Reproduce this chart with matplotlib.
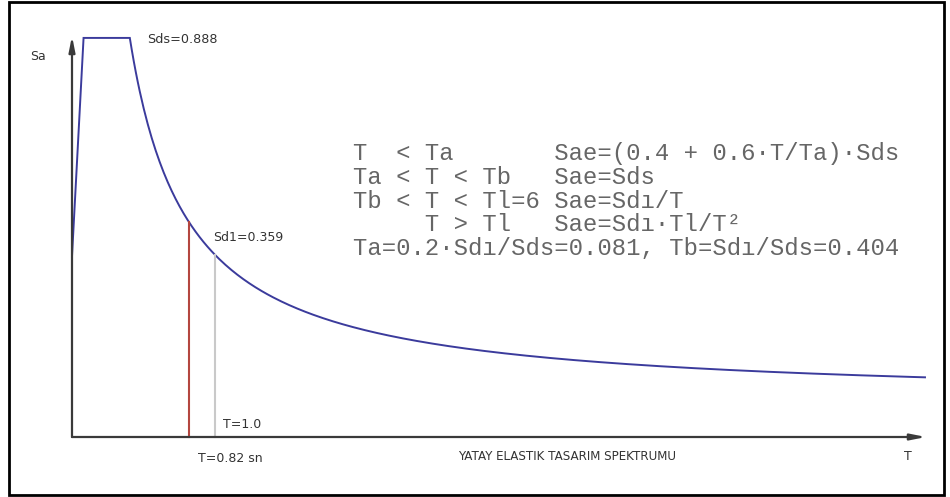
import numpy as np
import matplotlib.pyplot as plt
from matplotlib.patches import Rectangle

# Spectrum parameters
Sds = 0.888
Sd1 = 0.359
TL = 6.0
Ta = 0.2 * Sd1 / Sds
Tb = Sd1 / Sds
T_marks = [0.82, 1.0]
mark_colors = ['#b4463f', '#c9c9c9']

formula_lines = [
    "T  < Ta       Sae=(0.4 + 0.6·T/Ta)·Sds",
    "Ta < T < Tb   Sae=Sds",
    "Tb < T < Tl=6 Sae=Sdı/T",
    "     T > Tl   Sae=Sdı·Tl/T²",
    "Ta=0.2·Sdı/Sds=0.081, Tb=Sdı/Sds=0.404",
]

# pixel <-> data helpers (figure is 950x497 px)
W, H = 950, 497
X0, SX = 72, 143.0     # T=0 position and px per second
Y0, SY = 402, 410.0    # Sa=0 position (from top) and px per unit


def px(x):
    return (x - X0) / SX


def py(y):
    return (Y0 - y) / SY


def sae(T):
    T = np.asarray(T, dtype=float)
    out = np.where(T < Ta, (0.4 + 0.6 * T / Ta) * Sds, Sds)
    out = np.where(T > Tb, Sd1 / np.maximum(T, 1e-9), out)
    out = np.where(T > TL, Sd1 * TL / np.maximum(T, 1e-9) ** 2, out)
    return out


fig = plt.figure(figsize=(W / 100, H / 100), dpi=100)
ax = fig.add_axes([0, 0, 1, 1])
ax.set_xlim(px(0), px(W))
ax.set_ylim(py(H), py(0))
ax.axis('off')

# outer frame
fig.patches.append(Rectangle((9 / W, 2 / H), 935 / W, 493 / H, transform=fig.transFigure,
                             fill=False, edgecolor='black', linewidth=2))

axis_y = py(437)
t_end = px(926)

# axes with arrows
arrow = dict(arrowstyle='-|>,head_length=0.9,head_width=0.18', lw=1.6,
             color='#3a3a3a', shrinkA=0, shrinkB=0)
ax.annotate('', xy=(t_end, axis_y), xytext=(0, axis_y), arrowprops=arrow)
ax.annotate('', xy=(0, py(36)), xytext=(0, axis_y), arrowprops=arrow)

# spectrum curve
T = np.concatenate([[0, Ta, Tb], np.linspace(Tb, px(925), 400)])
ax.plot(T, sae(T), color='#3b3b9c', lw=1.4, solid_joinstyle='miter')

# period markers
for tm, c in zip(T_marks, mark_colors):
    ax.plot([tm, tm], [axis_y, float(sae(tm))], color=c, lw=1.5)

lab = dict(family='DejaVu Sans', color='#333333')
ax.text(px(30), py(57), 'Sa', fontsize=9, va='center', ha='left', **lab)
ax.text(px(147), py(40), 'Sds=%.3f' % Sds, fontsize=9.2, va='center', ha='left', **lab)
ax.text(px(213), py(238), 'Sd1=%.3f' % Sd1, fontsize=9, va='center', ha='left', **lab)
ax.text(px(223), py(425), 'T=1.0', fontsize=9, va='center', ha='left', **lab)
ax.text(px(198), py(458), 'T=0.82 sn', fontsize=9, va='center', ha='left', **lab)
ax.text(px(458), py(457), 'YATAY ELASTIK TASARIM SPEKTRUMU', fontsize=8.6,
        va='center', ha='left', **lab)
ax.text(px(904), py(457), 'T', fontsize=9, va='center', ha='left', **lab)

# design spectrum formulas
for i, line in enumerate(formula_lines):
    ax.text(px(353), py(160 + 23.8 * i), line, family='Liberation Mono', fontsize=17.2,
            color='#666666', va='baseline', ha='left')

fig.savefig('out.png', dpi=100)
